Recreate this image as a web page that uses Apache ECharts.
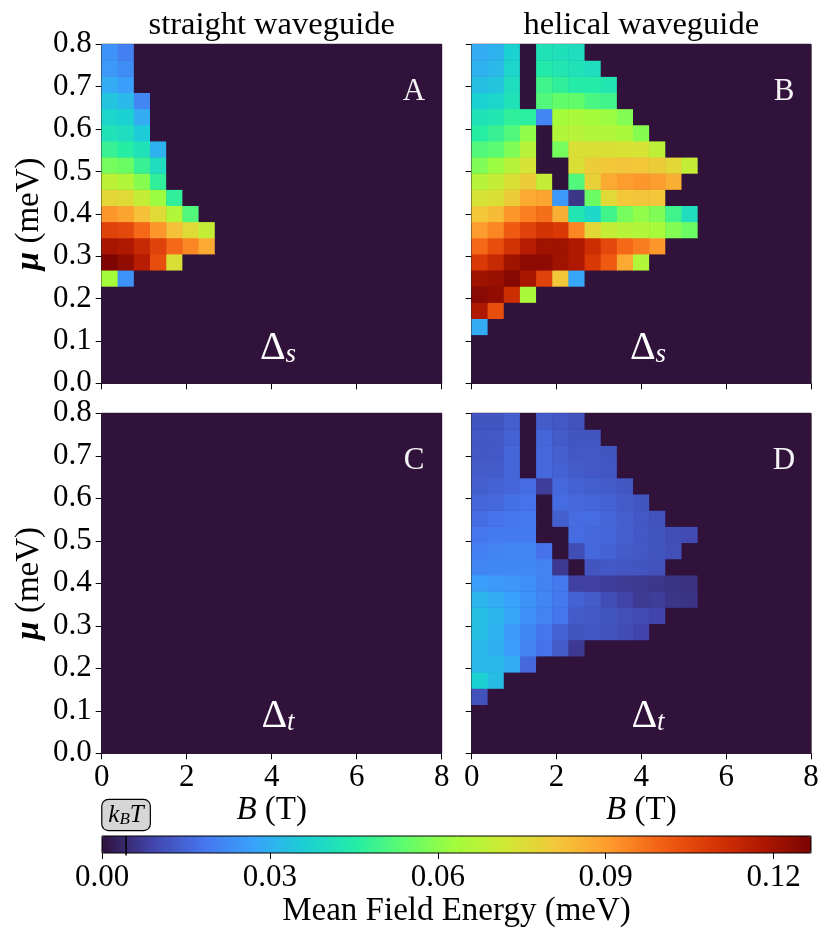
<!DOCTYPE html>
<html>
<head>
<meta charset="utf-8">
<script src="https://cdn.jsdelivr.net/npm/echarts@6/dist/echarts.min.js"></script>
<style>
  html, body { margin: 0; padding: 0; background: #fff; }
  #chart { width: 831px; height: 946px; }
</style>
</head>
<body>
<div id="chart"></div>
<script>
// bin centres: 21 x 21 cells over B = [0, 8] T and mu = [0, 0.8] meV
const bBins = [0.19, 0.57, 0.95, 1.33, 1.71, 2.10, 2.48, 2.86, 3.24, 3.62, 4.00,
               4.38, 4.76, 5.14, 5.52, 5.90, 6.29, 6.67, 7.05, 7.43, 7.81];
const muBins = [0.019, 0.057, 0.095, 0.133, 0.171, 0.210, 0.248, 0.286, 0.324, 0.362, 0.400,
                0.438, 0.476, 0.514, 0.552, 0.590, 0.629, 0.667, 0.705, 0.743, 0.781];
const cbTicks = [0, 0.03, 0.06, 0.09, 0.12];
const cbMax = 0.1267;
const kBT = 0.0043;

// mean field energy (meV); rows run from mu = 0.8 (top) downwards,
// each row starts at B = 0, cells not listed are 0
const straightS = [
  [0.0241, 0.0203],
  [0.0253, 0.0228],
  [0.0291, 0.0266],
  [0.0342, 0.0317, 0.0215],
  [0.0380, 0.0367, 0.0291],
  [0.0418, 0.0405, 0.0355],
  [0.0481, 0.0456, 0.0418, 0.0304],
  [0.0570, 0.0557, 0.0481, 0.0405],
  [0.0684, 0.0659, 0.0595, 0.0469],
  [0.0773, 0.0760, 0.0697, 0.0621, 0.0469],
  [0.0912, 0.0887, 0.0824, 0.0760, 0.0659, 0.0519],
  [0.1064, 0.1052, 0.0988, 0.0912, 0.0824, 0.0760, 0.0697],
  [0.1191, 0.1178, 0.1128, 0.1064, 0.0988, 0.0938, 0.0874],
  [0.1261, 0.1229, 0.1166, 0.1039, 0.0748],
  [0.0634, 0.0241]
];

const helicalS = [
  [0.0291, 0.0304, 0.0367, 0, 0.0418, 0.0412, 0.0405],
  [0.0304, 0.0317, 0.0380, 0, 0.0443, 0.0431, 0.0418, 0.0405],
  [0.0329, 0.0342, 0.0405, 0, 0.0494, 0.0469, 0.0450, 0.0450, 0.0431],
  [0.0367, 0.0380, 0.0418, 0, 0.0519, 0.0545, 0.0545, 0.0507, 0.0494],
  [0.0418, 0.0431, 0.0469, 0.0462, 0.0215, 0.0634, 0.0646, 0.0634, 0.0621, 0.0589],
  [0.0456, 0.0481, 0.0519, 0.0608, 0, 0.0659, 0.0672, 0.0659, 0.0659, 0.0646, 0.0595],
  [0.0519, 0.0532, 0.0583, 0.0672, 0, 0.0570, 0.0748, 0.0748, 0.0748, 0.0741, 0.0735, 0.0684],
  [0.0583, 0.0621, 0.0672, 0.0735, 0, 0, 0.0748, 0.0798, 0.0811, 0.0817, 0.0811, 0.0798, 0.0773, 0.0697],
  [0.0672, 0.0697, 0.0748, 0.0798, 0.0697, 0, 0.0519, 0.0786, 0.0874, 0.0900, 0.0912, 0.0900, 0.0862],
  [0.0735, 0.0748, 0.0798, 0.0874, 0.0887, 0.0253, 0.0063, 0.0557, 0.0760, 0.0811, 0.0817, 0.0811],
  [0.0811, 0.0836, 0.0912, 0.0950, 0.0976, 0.0862, 0.0431, 0.0386, 0.0494, 0.0570, 0.0608, 0.0583, 0.0494, 0.0405],
  [0.0900, 0.0938, 0.1014, 0.1064, 0.1102, 0.1083, 0.0938, 0.0773, 0.0697, 0.0672, 0.0659, 0.0640, 0.0589, 0.0557],
  [0.0988, 0.1039, 0.1102, 0.1166, 0.1204, 0.1204, 0.1178, 0.1115, 0.1052, 0.0988, 0.0957, 0.0912],
  [0.1083, 0.1128, 0.1204, 0.1235, 0.1235, 0.1204, 0.1178, 0.1083, 0.1014, 0.0874, 0.0659],
  [0.1204, 0.1216, 0.1248, 0.1191, 0.1064, 0.0811, 0.0279],
  [0.1242, 0.1229, 0.1115, 0.0646],
  [0.1178, 0.1039],
  [0.0291]
];

const straightT = [];

const helicalT = [
  [0.0120, 0.0120, 0.0139, 0, 0.0133, 0.0127, 0.0114],
  [0.0127, 0.0127, 0.0146, 0, 0.0152, 0.0133, 0.0120, 0.0120],
  [0.0127, 0.0127, 0.0152, 0, 0.0158, 0.0139, 0.0127, 0.0127, 0.0120],
  [0.0133, 0.0133, 0.0152, 0, 0.0158, 0.0146, 0.0133, 0.0127, 0.0123],
  [0.0139, 0.0146, 0.0152, 0.0165, 0.0076, 0.0158, 0.0146, 0.0139, 0.0133, 0.0124],
  [0.0152, 0.0158, 0.0171, 0.0177, 0, 0.0165, 0.0158, 0.0152, 0.0146, 0.0133, 0.0120],
  [0.0165, 0.0177, 0.0184, 0.0190, 0, 0.0139, 0.0165, 0.0165, 0.0152, 0.0139, 0.0127, 0.0114],
  [0.0184, 0.0196, 0.0196, 0.0196, 0, 0, 0.0165, 0.0158, 0.0152, 0.0139, 0.0127, 0.0120, 0.0108, 0.0101],
  [0.0203, 0.0209, 0.0215, 0.0215, 0.0177, 0, 0.0108, 0.0158, 0.0146, 0.0133, 0.0127, 0.0120, 0.0110],
  [0.0215, 0.0222, 0.0222, 0.0222, 0.0209, 0.0070, 0, 0.0120, 0.0127, 0.0123, 0.0120, 0.0114],
  [0.0266, 0.0253, 0.0247, 0.0234, 0.0209, 0.0190, 0.0082, 0.0082, 0.0076, 0.0073, 0.0070, 0.0066, 0.0061, 0.0056],
  [0.0310, 0.0291, 0.0272, 0.0241, 0.0215, 0.0190, 0.0146, 0.0133, 0.0108, 0.0089, 0.0073, 0.0076, 0.0063, 0.0061],
  [0.0329, 0.0310, 0.0279, 0.0234, 0.0209, 0.0184, 0.0133, 0.0127, 0.0120, 0.0110, 0.0101, 0.0091],
  [0.0329, 0.0304, 0.0253, 0.0222, 0.0184, 0.0146, 0.0120, 0.0123, 0.0117, 0.0104, 0.0091],
  [0.0317, 0.0298, 0.0260, 0.0209, 0.0177, 0.0133, 0.0070],
  [0.0317, 0.0317, 0.0291, 0.0158],
  [0.0367, 0.0323],
  [0.0114]
];

const FONT = '"Liberation Serif", "DejaVu Serif", serif';

// turbo colormap, 15 evenly spaced stops
const turbo = ['#30123b', '#4145ab', '#4675ed', '#39a2fc', '#1bcfd4', '#24eca6', '#61fc6c', '#a4fc3b',
               '#d1e834', '#f3c63a', '#fe9b2d', '#f36315', '#d93806', '#b11901', '#7a0402'];

// rows (top -> bottom) to heatmap cells [bIndex, muIndex, value]
function toCells(rows) {
  const cells = [];
  for (let i = 0; i < muBins.length; i++) {
    const row = rows[muBins.length - 1 - i] || [];
    for (let j = 0; j < bBins.length; j++) {
      cells.push([j, i, row[j] || 0]);
    }
  }
  return cells;
}

const panels = [
  { data: straightS, left: 101.7, top: 44.3, w: 340, h: 339, xLab: false, yLab: true },
  { data: helicalS, left: 471.7, top: 44.3, w: 339.3, h: 339, xLab: false, yLab: false },
  { data: straightT, left: 101.7, top: 413.3, w: 340, h: 340, xLab: true, yLab: true },
  { data: helicalT, left: 471.7, top: 413.3, w: 339.3, h: 340, xLab: true, yLab: false }
];

const grid = panels.map(p => ({
  left: p.left, top: p.top, width: p.w, height: p.h,
  show: true, borderColor: '#000', borderWidth: 1, backgroundColor: turbo[0]
}));
grid.push({
  left: 102, top: 836, width: 709, height: 17,
  show: true, borderColor: '#000', borderWidth: 1, backgroundColor: 'transparent', z: 10
});

const tickStyle = { show: true, inside: false, length: 6, lineStyle: { color: '#000', width: 1 } };
const labelStyle = { color: '#000', fontFamily: FONT, fontSize: 31 };
const nameStyle = (rich) => ({ color: '#000', fontFamily: FONT, fontSize: 33, rich: rich });

const xAxis = [], yAxis = [];
panels.forEach((p, i) => {
  xAxis.push({ type: 'category', gridIndex: i, data: bBins, show: false });
  yAxis.push({ type: 'category', gridIndex: i, data: muBins, show: false });
});
panels.forEach((p, i) => {
  xAxis.push({
    type: 'value', gridIndex: i, min: 0, max: 8, interval: 2, position: 'bottom',
    axisLine: { show: false }, splitLine: { show: false }, axisTick: tickStyle,
    axisLabel: Object.assign({ show: p.xLab, margin: 9 }, labelStyle),
    name: p.xLab ? '{b|B} (T)' : '', nameLocation: 'middle', nameGap: 41,
    nameTextStyle: nameStyle({ b: { fontStyle: 'italic', fontFamily: FONT, fontSize: 33, color: '#000' } })
  });
  yAxis.push({
    type: 'value', gridIndex: i, min: 0, max: 0.8, interval: 0.1, position: 'left',
    axisLine: { show: false }, splitLine: { show: false }, axisTick: tickStyle,
    axisLabel: Object.assign({ show: p.yLab, margin: 10, formatter: v => v.toFixed(1) }, labelStyle),
    name: p.yLab ? '{m|μ} (meV)' : '', nameLocation: 'middle', nameGap: 56,
    nameTextStyle: nameStyle({ m: { fontStyle: 'italic', fontWeight: 'bold', fontFamily: FONT, fontSize: 33, color: '#000' } })
  });
});
// colour bar axis
xAxis.push({
  type: 'value', gridIndex: 4, min: 0, max: cbMax, position: 'bottom',
  axisLine: { show: false }, splitLine: { show: false },
  axisTick: Object.assign({ customValues: cbTicks }, tickStyle),
  axisLabel: Object.assign({ customValues: cbTicks, margin: 9, formatter: v => v.toFixed(2) }, labelStyle),
  name: 'Mean Field Energy (meV)', nameLocation: 'middle', nameGap: 42,
  nameTextStyle: nameStyle(),
  z: 10
});
yAxis.push({ type: 'value', gridIndex: 4, min: 0, max: 1, show: false });

const series = panels.map((p, i) => ({
  type: 'heatmap',
  xAxisIndex: i, yAxisIndex: i,
  data: toCells(p.data),
  emphasis: { disabled: true },
  progressive: 0
}));
// k_B T marker on the colour bar
series.push({
  type: 'line', xAxisIndex: 8, yAxisIndex: 8, z: 10, clip: false, silent: true,
  symbol: 'circle', symbolSize: 0, showSymbol: true,
  lineStyle: { color: '#000', width: 1.5 },
  data: [
    [kBT, -0.15],
    {
      value: [kBT, 1],
      label: {
        show: true, position: 'top', distance: 6,
        formatter: '{k|k}{s|B}{k|T}',
        backgroundColor: '#d6d6d6', borderColor: '#000', borderWidth: 1.2, borderRadius: 6,
        padding: [2, 6, 2, 6],
        rich: {
          k: { fontFamily: FONT, fontStyle: 'italic', fontSize: 25, color: '#000' },
          s: { fontFamily: FONT, fontStyle: 'italic', fontSize: 17, color: '#000', padding: [9, 0, 0, 0] }
        }
      }
    }
  ]
});

function txt(x, y, text, size, color, rich) {
  return {
    type: 'text', x: x, y: y, z: 20,
    style: {
      text: text, fill: color, fontFamily: FONT, fontSize: size,
      align: 'center', verticalAlign: 'middle', rich: rich
    }
  };
}
const deltaRich = {
  d: { fontFamily: FONT, fontSize: 40, fill: '#fff', color: '#fff' },
  s: { fontFamily: FONT, fontStyle: 'italic', fontSize: 27, fill: '#fff', color: '#fff', padding: [14, 0, 0, 0] }
};

const graphic = [
  txt(271.7, 25, 'straight waveguide', 32.5, '#000'),
  txt(641.3, 25, 'helical waveguide', 32.5, '#000'),
  txt(414, 92, 'A', 31, '#f4f4f4'),
  txt(784, 92, 'B', 31, '#f4f4f4'),
  txt(414, 461, 'C', 31, '#f4f4f4'),
  txt(784, 461, 'D', 31, '#f4f4f4'),
  txt(278, 348, '{d|Δ}{s|s}', 40, '#fff', deltaRich),
  txt(648, 348, '{d|Δ}{s|s}', 40, '#fff', deltaRich),
  txt(278, 716, '{d|Δ}{s|t}', 40, '#fff', deltaRich),
  txt(648, 716, '{d|Δ}{s|t}', 40, '#fff', deltaRich)
];

const chart = echarts.init(document.getElementById('chart'));
chart.setOption({
  animation: false,
  backgroundColor: '#fff',
  grid: grid,
  xAxis: xAxis,
  yAxis: yAxis,
  visualMap: {
    type: 'continuous', min: 0, max: cbMax,
    seriesIndex: [0, 1, 2, 3],
    orient: 'horizontal', left: 102, top: 836,
    itemWidth: 17, itemHeight: 709, padding: 0,
    calculable: false, hoverLink: false, text: null,
    inRange: { color: turbo }
  },
  series: series,
  graphic: graphic
});
</script>
</body>
</html>
